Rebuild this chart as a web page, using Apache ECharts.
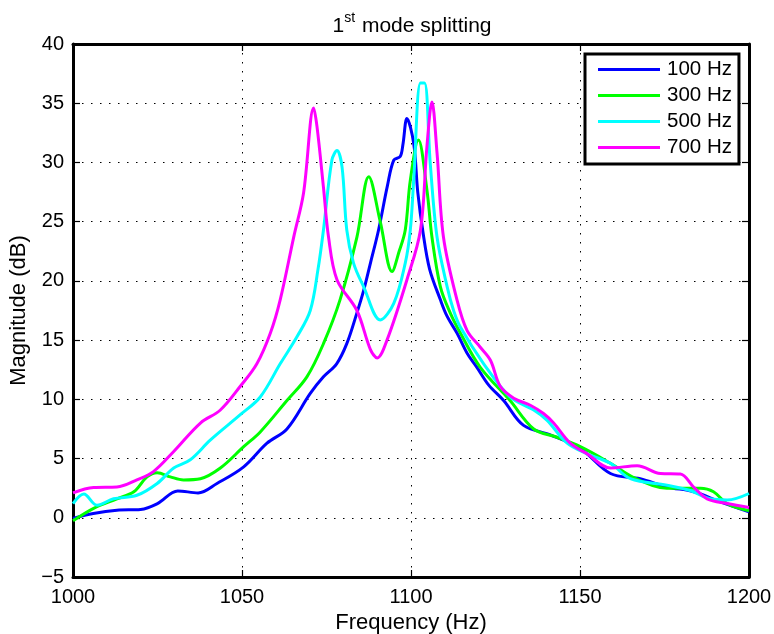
<!DOCTYPE html>
<html><head><meta charset="utf-8">
<script src="https://cdn.jsdelivr.net/npm/echarts@6/dist/echarts.min.js"></script>
<style>html,body{margin:0;padding:0;background:#fff}#c{width:774px;height:634px}</style>
</head><body><div id="c"></div>
<script>
const seriesNames = ['100 Hz', '300 Hz', '500 Hz', '700 Hz'];
const colors = ['#0000ff', '#00ff00', '#00ffff', '#ff00ff'];
const xTicks = [1000, 1050, 1100, 1150, 1200];
const yTicks = [-5, 0, 5, 10, 15, 20, 25, 30, 35, 40];

const f100 = [1000,1006,1013,1020,1025,1031,1037,1042.6,1050.5,1057.4,1063.3,1070.2,1074.1,1078,1081,1084,1086,1088,1090.4,1093,1094.9,1096.8,1097.6,1098.8,1100.8,1102,1103.6,1105.5,1108.7,1110.7,1113.6,1116.6,1119.5,1123,1127.4,1133.3,1141.2,1150.1,1159,1167.8,1175.7,1183.6,1191.5,1200];
const m100 = [-0.05,0.36,0.64,0.7,1.2,2.27,2.1,2.9,4.3,6.3,7.5,10.5,11.9,13.0,14.7,17.3,19.2,21.5,24.3,28,30.2,30.5,31.5,33.7,31.6,27.5,24,21,18.4,17.0,15.6,13.9,12.7,11.2,9.9,7.8,7.0,5.85,3.74,3.3,2.6,2.2,1.35,0.5];

const f300 = [1000,1006.1,1013,1018,1021.9,1024.9,1028.8,1032.7,1037.7,1043.6,1050.5,1055.4,1063.3,1069.2,1074.1,1079,1084,1087.5,1090.9,1094.4,1096.5,1098.3,1099.8,1102.2,1104.7,1106.2,1108.7,1111.6,1114.6,1120.5,1129.3,1136.3,1143.2,1150.1,1159,1165.9,1175.7,1185.6,1189.5,1193.5,1200];
const m300 = [-0.26,0.8,1.6,2.2,3.45,3.8,3.45,3.2,3.3,4.2,6.0,7.25,9.9,11.9,14.7,18.4,23.7,28.8,25,20.8,22.5,24.3,28.5,31.9,27.7,23.7,19.5,17.3,15.6,12.7,9.9,7.5,6.8,6.0,4.6,3.4,2.5,2.5,2.2,1.2,0.6];

const f500 = [1000,1003.2,1007.1,1012,1018.9,1024.9,1029.8,1034.7,1040.6,1049.5,1055.4,1061.3,1066.3,1070.2,1072.5,1074.1,1076.6,1078.1,1079.6,1081,1083,1086,1090.9,1094.9,1098.3,1099.8,1100.8,1102.8,1104,1105.7,1107.7,1110.7,1112.6,1114.6,1121.5,1129.3,1136.3,1140.2,1146.2,1152.1,1159,1164.9,1175.7,1182.6,1188.5,1193.5,1200];
const m500 = [1.2,2.0,1.06,1.6,1.9,2.9,4.2,4.9,6.55,8.7,10.2,13.0,15.3,17.5,21,24.3,30.2,31.0,29.6,24.3,21.5,19.5,16.7,18.1,21.5,24.3,28.5,36.7,36.7,29.9,23.7,19.5,17.5,16.1,13.0,10.2,9.1,8.25,6.3,5.4,4.6,3.3,2.75,2.3,1.6,1.5,2.05];

const f700 = [1000,1006.1,1013,1018.9,1023.8,1029.8,1037.7,1043.6,1049.5,1054.4,1058.4,1061.3,1065.3,1068.2,1071.2,1072.2,1074.1,1075.6,1078.1,1084,1088,1090,1092.9,1098.8,1102.8,1104.7,1106.2,1107.7,1109.6,1113.6,1116.6,1120.5,1123.5,1126.4,1130.4,1135.3,1139.2,1142.2,1147.1,1152.1,1159,1166.9,1173.8,1179.7,1183.6,1187.6,1193.5,1200];
const m700 = [2.1,2.56,2.6,3.2,3.9,5.6,8.0,9.1,11.1,13.0,15.6,18.4,23.7,27.4,34.6,33.0,27.9,23.7,20.1,17.5,14.2,13.5,15.0,20.1,24.3,31.3,35.1,30.8,23.7,18.4,15.8,14.4,13.3,11.1,10.1,9.5,8.8,8.0,6.3,5.4,4.2,4.4,3.74,3.7,2.6,1.6,1.2,0.87];

const freqs = [f100, f300, f500, f700];
const mags = [m100, m300, m500, m700];

const FONT = 'Liberation Sans, Arial, Helvetica, sans-serif';
const chart = echarts.init(document.getElementById('c'), null, {renderer: 'canvas'});

const axisCommon = {
  axisLine: {show: true, onZero: false, lineStyle: {color: '#000', width: 3}},
  axisTick: {show: true, inside: true, length: 7, lineStyle: {color: '#000', width: 1.2}},
};

const option = {
  animation: false,
  backgroundColor: '#fff',
  title: {
    text: '{a|1}{s|st}{a| mode splitting}',
    left: 407, top: 6, textAlign: 'center',
    textStyle: {
      fontWeight: 'normal',
      rich: {
        a: {fontFamily: FONT, fontSize: 21, fontWeight: 'normal', color: '#000', verticalAlign: 'bottom', lineHeight: 26},
        s: {fontFamily: FONT, fontSize: 14, fontWeight: 'normal', color: '#000', verticalAlign: 'top', lineHeight: 26, padding: [0, 1, 10, 0]}
      }
    }
  },
  legend: {
    orient: 'vertical', left: 585, top: 54,
    data: seriesNames,
    icon: 'rect', itemWidth: 62, itemHeight: 3, itemGap: 5,
    padding: [5, 7, 6, 13],
    backgroundColor: '#fff', borderColor: '#000', borderWidth: 3,
    textStyle: {fontFamily: FONT, fontSize: 20.5, color: '#000', padding: [0, 0, 0, 2]}
  },
  grid: {left: 73, right: 25, top: 44, bottom: 57, containLabel: false, outerBoundsMode: 'none'},
  xAxis: [
    Object.assign({}, axisCommon, {
      type: 'value', min: 1000, max: 1200, interval: 50, position: 'bottom',
      name: 'Frequency (Hz)', nameLocation: 'middle', nameGap: 33,
      nameTextStyle: {fontFamily: FONT, fontSize: 22, color: '#000'},
      axisLabel: {fontFamily: FONT, fontSize: 20, color: '#000', margin: 10,
        formatter: v => xTicks.includes(v) ? String(v) : ''},
      splitLine: {show: true, lineStyle: {color: '#000', width: 1, type: [1.5, 7.5]}}
    }),
    Object.assign({}, axisCommon, {
      type: 'value', min: 1000, max: 1200, interval: 50, position: 'top',
      axisLabel: {show: false}, splitLine: {show: false}
    })
  ],
  yAxis: [
    Object.assign({}, axisCommon, {
      type: 'value', min: -5, max: 40, interval: 5, position: 'left',
      name: 'Magnitude (dB)', nameLocation: 'middle', nameGap: 39,
      nameTextStyle: {fontFamily: FONT, fontSize: 22, color: '#000'},
      axisLabel: {fontFamily: FONT, fontSize: 20, color: '#000', margin: 9,
        formatter: v => yTicks.includes(v) ? String(v).replace('-', '\u2212') : ''},
      splitLine: {show: true, lineStyle: {color: '#000', width: 1, type: [1.5, 7.5]}}
    }),
    Object.assign({}, axisCommon, {
      type: 'value', min: -5, max: 40, interval: 5, position: 'right',
      axisLabel: {show: false}, splitLine: {show: false}
    })
  ],
  series: seriesNames.map((name, i) => ({
    name: name, type: 'line', xAxisIndex: 0, yAxisIndex: 0,
    data: freqs[i].map((f, j) => [f, mags[i][j]]),
    showSymbol: false, symbol: 'none', smooth: 0.35,
    lineStyle: {color: colors[i], width: 3},
    itemStyle: {color: colors[i]},
    z: 3 + i
  }))
};
chart.setOption(option);
</script></body></html>
